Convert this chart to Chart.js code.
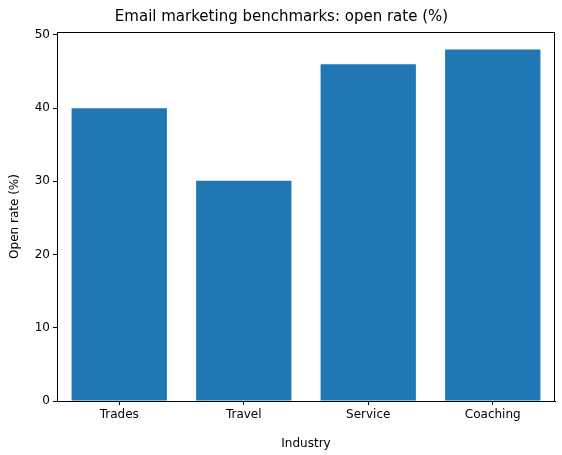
<!DOCTYPE html>
<html><head><meta charset="utf-8">
<script src="https://cdn.jsdelivr.net/npm/chart.js@4/dist/chart.umd.min.js"></script>
<style>html,body{margin:0;padding:0;background:#fff}#wrap{width:562px;height:455px}</style>
</head><body><div id="wrap"><canvas id="c"></canvas></div>
<script>
const industries = ['Trades', 'Travel', 'Service', 'Coaching'];
const openRates = [40, 30.1, 46, 48];
const yTicks = [0, 10, 20, 30, 40, 50];

const frame = {
    id: 'frame',
    afterDatasetsDraw(chart) {
        const a = chart.chartArea, ctx = chart.ctx;
        ctx.save();
        ctx.strokeStyle = '#000';
        ctx.lineWidth = 1;
        ctx.strokeRect(a.left + 0.5, a.top + 0.5, a.right - a.left - 1, a.bottom - a.top);
        ctx.restore();
    }
};

Chart.defaults.font.family = 'DejaVu Sans';
Chart.defaults.color = '#000';
new Chart(document.getElementById('c'), {
    type: 'bar',
    data: {
        labels: industries,
        datasets: [{
            data: openRates,
            backgroundColor: '#1f77b4',
            borderWidth: 0,
            barPercentage: 0.8 * 4 / 4.18,
            categoryPercentage: 1
        }]
    },
    options: {
        responsive: true,
        maintainAspectRatio: false,
        animation: false,
        layout: { padding: { right: 7, left: 8, bottom: 0 } },
        scales: {
            x: {
                offset: true,
                ticks: { font: { size: 12 }, maxRotation: 0 },
                grid: { drawOnChartArea: false, offset: false, tickLength: 4, color: '#000' },
                border: { color: '#000' },
                title: { display: true, text: 'Industry', font: { size: 12 }, padding: { top: 0 } },
                afterFit: s => { s.height = 54; }
            },
            y: {
                min: 0, max: 50.4,
                afterBuildTicks: s => { s.ticks = yTicks.map(v => ({ value: v })); },
                ticks: { font: { size: 12 } },
                grid: { drawOnChartArea: false, tickLength: 4, color: '#000' },
                border: { color: '#000' },
                title: { display: true, text: 'Open rate (%)', font: { size: 12 }, padding: 0 },
                afterFit: s => { s.width = 49; }
            }
        },
        plugins: {
            legend: { display: false },
            tooltip: { enabled: false },
            title: {
                display: true,
                text: 'Email marketing benchmarks: open rate (%)',
                font: { size: 15, weight: 'normal' },
                color: '#000',
                padding: { top: 8, bottom: 6 }
            }
        }
    },
    plugins: [frame]
});
</script>
</body></html>
